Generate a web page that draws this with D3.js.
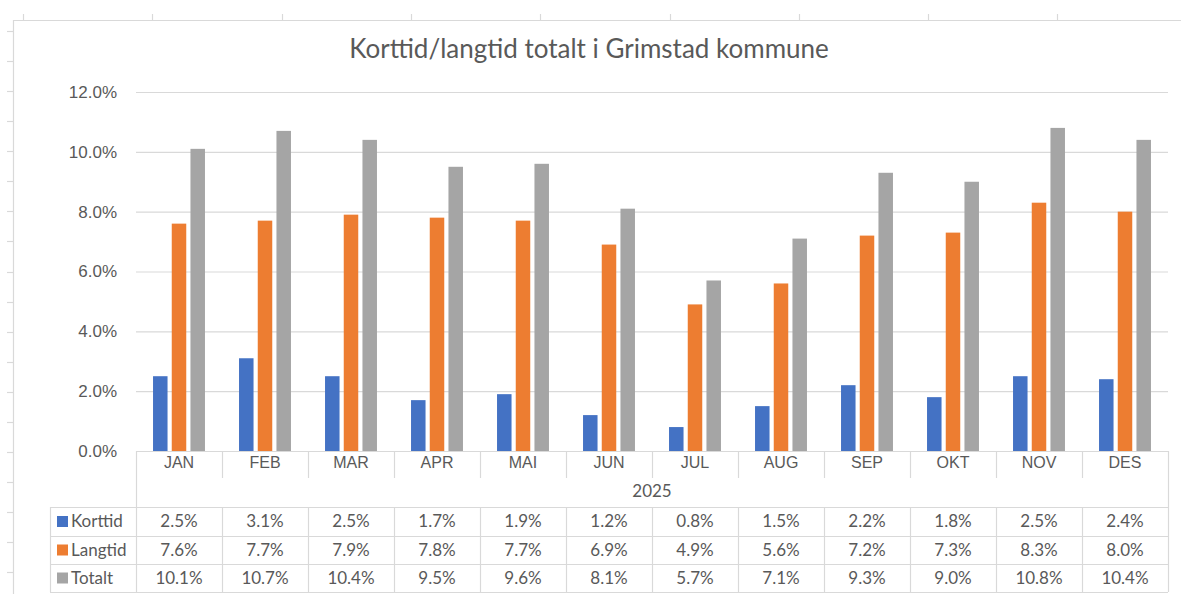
<!DOCTYPE html>
<html>
<head>
<meta charset="utf-8">
<script src="https://cdn.jsdelivr.net/npm/d3@7"></script>
<style>
  body { margin: 0; background: #fff; }
  svg { display: block; font-family: Lato, "Open Sans", sans-serif; }
  .axis text { fill: #595959; }
</style>
</head>
<body>
<svg id="chart" width="1181" height="594"></svg>
<script>
/**
 * Data.
 */
const months = ['JAN', 'FEB', 'MAR', 'APR', 'MAI', 'JUN', 'JUL', 'AUG', 'SEP', 'OKT', 'NOV', 'DES'];
const korttid = [2.5, 3.1, 2.5, 1.7, 1.9, 1.2, 0.8, 1.5, 2.2, 1.8, 2.5, 2.4];
const langtid = [7.6, 7.7, 7.9, 7.8, 7.7, 6.9, 4.9, 5.6, 7.2, 7.3, 8.3, 8.0];
const totalt = [10.1, 10.7, 10.4, 9.5, 9.6, 8.1, 5.7, 7.1, 9.3, 9.0, 10.8, 10.4];
const seriesNames = ['Korttid', 'Langtid', 'Totalt'];
const yearLabel = '2025';
const title = 'Korttid/langtid totalt i Grimstad kommune';

/**
 * Visual configs.
 */
const colors = { Korttid: '#4472C4', Langtid: '#ED7D31', Totalt: '#A5A5A5' };
const textColor = '#595959',
    lineColor = '#d9d9d9';
const plot = { left: 136, right: 1168, top: 92, bottom: 451 },
    tableLeft = 50,
    catRowBottom = 478,
    rowLines = [507, 536, 564, 592];

const series = seriesNames.map((name, i) => ({
    name: name,
    values: [korttid, langtid, totalt][i]
}));

const svg = d3.select('#chart');

// Spreadsheet frame behind the chart
const frame = svg.append('g').attr('class', 'frame')
    .attr('stroke', lineColor).attr('stroke-width', 1.2);
frame.append('line').attr('x1', 13).attr('x2', 1181).attr('y1', 20.5).attr('y2', 20.5);
frame.append('line').attr('x1', 13.5).attr('x2', 13.5).attr('y1', 20).attr('y2', 594);
d3.range(0, 10).forEach(i => {
    const x = Math.round(23 + i * 129.3) + 0.5;
    frame.append('line').attr('x1', x).attr('x2', x).attr('y1', 14).attr('y2', 20);
});
d3.range(0, 19).forEach(i => {
    const y = Math.round(31 + i * 30.07) + 0.5;
    frame.append('line').attr('x1', 7).attr('x2', 13).attr('y1', y).attr('y2', y);
});

// Title
svg.append('text')
    .attr('x', 589).attr('y', 58)
    .attr('text-anchor', 'middle')
    .attr('fill', textColor)
    .style('font-size', '26px')
    .text(title);

/**
 * Scales.
 */
const x = d3.scaleBand().domain(months).range([plot.left, plot.right]);
const xSub = d3.scaleBand().domain(seriesNames).range([0, x.bandwidth()])
    .paddingInner(0.225).paddingOuter(0.91);
const y = d3.scaleLinear().domain([0, 12]).range([plot.bottom, plot.top]);

// Y axis with gridlines
const yAxis = svg.append('g').attr('class', 'axis y')
    .attr('transform', 'translate(' + plot.left + ',0)')
    .call(d3.axisLeft(y).tickValues(d3.range(0, 13, 2))
        .tickFormat(d => d3.format('.1f')(d) + '%')
        .tickSize(-(plot.right - plot.left)).tickPadding(19));
yAxis.select('.domain').remove();
yAxis.selectAll('.tick line').attr('stroke', lineColor).attr('stroke-width', 1.2);
yAxis.selectAll('.tick text').style('font-size', '17px');

// Bars
const groups = svg.append('g').attr('class', 'bars')
    .selectAll('g').data(series).join('g')
    .attr('fill', d => colors[d.name]);
groups.selectAll('rect')
    .data(d => d.values.map((v, i) => ({ name: d.name, month: months[i], value: v })))
    .join('rect')
    .attr('x', d => x(d.month) + xSub(d.name))
    .attr('width', xSub.bandwidth())
    .attr('y', d => y(d.value))
    .attr('height', d => y(0) - y(d.value));

/**
 * Data table under the chart.
 */
const table = svg.append('g').attr('class', 'table')
    .attr('stroke', lineColor).attr('stroke-width', 1.2);
// Axis line / top of category row
table.append('line').attr('x1', plot.left).attr('x2', plot.right)
    .attr('y1', plot.bottom + 0.5).attr('y2', plot.bottom + 0.5);
// Outer verticals of the category area
[plot.left, plot.right].forEach(xv => {
    table.append('line').attr('x1', xv + 0.5).attr('x2', xv + 0.5)
        .attr('y1', plot.bottom).attr('y2', rowLines[3]);
});
// Short separators between categories
months.slice(1).forEach(m => {
    const xv = Math.round(x(m)) + 0.5;
    table.append('line').attr('x1', xv).attr('x2', xv)
        .attr('y1', plot.bottom).attr('y2', catRowBottom);
    table.append('line').attr('x1', xv).attr('x2', xv)
        .attr('y1', rowLines[0]).attr('y2', rowLines[3]);
});
// Row lines
rowLines.forEach(yv => {
    table.append('line').attr('x1', tableLeft).attr('x2', plot.right)
        .attr('y1', yv + 0.5).attr('y2', yv + 0.5);
});
table.append('line').attr('x1', tableLeft + 0.5).attr('x2', tableLeft + 0.5)
    .attr('y1', rowLines[0]).attr('y2', rowLines[3]);

// Category labels
const xAxis = svg.append('g').attr('class', 'axis x')
    .attr('transform', 'translate(0,' + plot.bottom + ')')
    .call(d3.axisBottom(x).tickSize(0).tickPadding(6));
xAxis.select('.domain').remove();
xAxis.selectAll('.tick text').style('font-size', '16px');

svg.append('text')
    .attr('x', (plot.left + plot.right) / 2).attr('y', 497)
    .attr('text-anchor', 'middle').attr('fill', textColor)
    .style('font-size', '17px')
    .text(yearLabel);

// Table rows
const rows = svg.append('g').attr('class', 'rows')
    .selectAll('g').data(series).join('g')
    .attr('transform', (d, i) => 'translate(0,' + (rowLines[i] + rowLines[i + 1]) / 2 + ')');
rows.append('rect')
    .attr('x', 57).attr('y', -5.5).attr('width', 11).attr('height', 11)
    .attr('fill', d => colors[d.name]);
rows.append('text')
    .attr('x', 71).attr('dy', '0.35em')
    .attr('fill', textColor).style('font-size', '17px')
    .text(d => d.name);
rows.selectAll('.val')
    .data(d => d.values.map((v, i) => ({ month: months[i], value: v })))
    .join('text').attr('class', 'val')
    .attr('x', d => x(d.month) + x.bandwidth() / 2).attr('dy', '0.35em')
    .attr('text-anchor', 'middle')
    .attr('fill', textColor).style('font-size', '17px')
    .text(d => d3.format('.1f')(d.value) + '%');
</script>
</body>
</html>
